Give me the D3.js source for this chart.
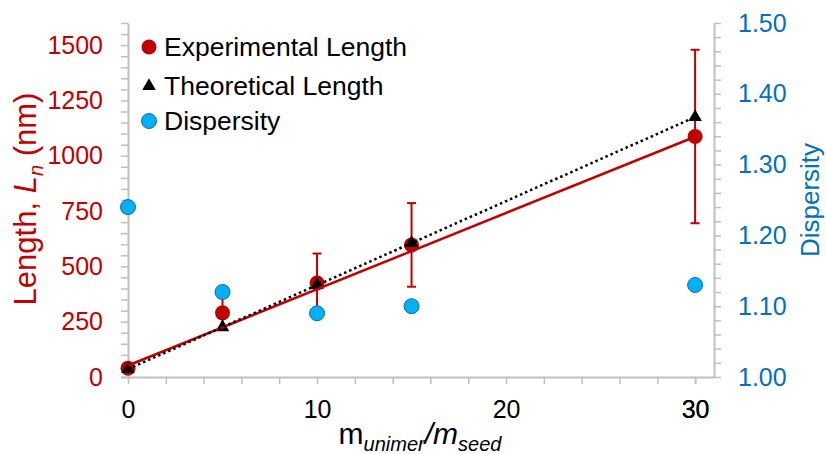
<!DOCTYPE html>
<html>
<head>
<meta charset="utf-8">
<script src="https://cdn.jsdelivr.net/npm/d3@7"></script>
<style>
  html, body { margin: 0; padding: 0; background: #fff; }
  svg { display: block; font-family: "Liberation Sans", Arial, sans-serif; }
</style>
</head>
<body>
<svg id="chart" width="826" height="454"></svg>
<script>
// Mass ratio of unimer to seed
const ratios = [0, 5, 10, 15, 30];
// Measured number-average length (nm) and its standard deviation
const expLength = [40, 290, 425, 597, 1087];
const expError = [8, 70, 133, 189, 392];
// Predicted length (nm)
const theoLength = [36, 225, 415, 605, 1175];
// Length dispersity
const dispersity = [1.24, 1.12, 1.09, 1.10, 1.13];
// Trend line for the measured length, given at its two ends (x = 0 and x = 30)
const trendX = [0, 30];
const expTrend = [52, 1086];

// Axis ticks
const xMajorTicks = [0, 10, 20, 30];
const yLeftMajorTicks = [0, 250, 500, 750, 1000, 1250, 1500];
const yRightMajorTicks = [1.0, 1.1, 1.2, 1.3, 1.4, 1.5];

const legendItems = ["Experimental Length", "Theoretical Length", "Dispersity"];

const RED = "#c00000", BLUE = "#0070c0", LIGHTBLUE = "#00b0f0", GREY = "#bfbfbf";

const svg = d3.select("#chart");
const plot = { left: 128, right: 714, top: 23, bottom: 377 };

const x = d3.scaleLinear().domain([0, 31]).range([plot.left, plot.right]);
const yL = d3.scaleLinear().domain([0, 1600]).range([plot.bottom, plot.top]);
const yR = d3.scaleLinear().domain([1.0, 1.5]).range([plot.bottom, plot.top]);

function styleAxis(g, color) {
  g.select(".domain").attr("stroke", GREY).attr("stroke-width", 2);
  g.selectAll(".tick line").attr("stroke", GREY).attr("stroke-width", 1.5);
  g.selectAll(".tick text").attr("fill", color).style("font-size", "25px")
    .style("font-family", '"Liberation Sans", Arial, sans-serif');
}

// Bottom axis: minor ticks every 2, labels every 10
const gx = svg.append("g").attr("transform", `translate(0,${plot.bottom})`)
  .call(d3.axisBottom(x).tickValues(d3.range(0, 31, 2).concat([30]))
    .tickSizeInner(7).tickSizeOuter(0).tickPadding(16)
    .tickFormat(d => xMajorTicks.includes(d) ? d : ""));
styleAxis(gx, "#000");
gx.select(".domain").attr("d", `M${plot.left - 7},0.5H${plot.right}`);

// Left axis: minor ticks every 50, labels every 250
const gyl = svg.append("g").attr("transform", `translate(${plot.left},0)`)
  .call(d3.axisLeft(yL).tickValues(d3.range(0, 1601, 50))
    .tickSizeInner(7).tickSizeOuter(0).tickPadding(18)
    .tickFormat(d => yLeftMajorTicks.includes(d) ? d : ""));
styleAxis(gyl, RED);

// Right axis: minor ticks every 0.02, labels every 0.10
const rightTicks = d3.range(0, 26).map(i => +(1 + i * 0.02).toFixed(2));
const gyr = svg.append("g").attr("transform", `translate(${plot.right},0)`)
  .call(d3.axisRight(yR).tickValues(rightTicks)
    .tickSizeInner(7).tickSizeOuter(0).tickPadding(17)
    .tickFormat(d => yRightMajorTicks.some(t => Math.abs(t - d) < 1e-9) ? d3.format(".2f")(d) : ""));
styleAxis(gyr, BLUE);

// Least-squares trend line for the predicted series
function linearFit(xs, ys) {
  const mx = d3.mean(xs), my = d3.mean(ys);
  const sxy = d3.sum(xs, (v, i) => (v - mx) * (ys[i] - my));
  const sxx = d3.sum(xs, v => (v - mx) ** 2);
  const slope = sxy / sxx;
  return { slope, intercept: my - slope * mx };
}
const fitTheo = linearFit(ratios, theoLength);

const line = d3.line().x(d => x(d[0])).y(d => yL(d[1]));

// Error bars on measured length
const eb = svg.append("g").attr("stroke", RED).attr("stroke-width", 2);
ratios.forEach((r, i) => {
  const cx = x(r), lo = yL(expLength[i] - expError[i]), hi = yL(expLength[i] + expError[i]);
  eb.append("line").attr("x1", cx).attr("x2", cx).attr("y1", lo).attr("y2", hi);
  eb.append("line").attr("x1", cx - 4.5).attr("x2", cx + 4.5).attr("y1", lo).attr("y2", lo);
  eb.append("line").attr("x1", cx - 4.5).attr("x2", cx + 4.5).attr("y1", hi).attr("y2", hi);
});

// Measured length markers
svg.append("g").selectAll("circle").data(ratios).join("circle")
  .attr("cx", d => x(d)).attr("cy", (d, i) => yL(expLength[i]))
  .attr("r", 7.5).attr("fill", RED);

// Predicted length markers
const tri = d3.symbol().type(d3.symbolTriangle).size(80);
svg.append("g").selectAll("path").data(ratios).join("path")
  .attr("transform", (d, i) => `translate(${x(d)},${yL(theoLength[i])})`)
  .attr("d", tri).attr("fill", "#000");

// Trend lines
svg.append("path")
  .attr("d", line(trendX.map((v, i) => [v, expTrend[i]])))
  .attr("fill", "none").attr("stroke", RED).attr("stroke-width", 2.5);
svg.append("path")
  .attr("d", line(trendX.map(v => [v, fitTheo.intercept + fitTheo.slope * v])))
  .attr("fill", "none").attr("stroke", "#000").attr("stroke-width", 2.5)
  .attr("stroke-dasharray", "2.5,3");

// Dispersity markers (right axis)
svg.append("g").selectAll("circle").data(ratios).join("circle")
  .attr("cx", d => x(d)).attr("cy", (d, i) => yR(dispersity[i]))
  .attr("r", 7.5).attr("fill", LIGHTBLUE).attr("stroke", BLUE).attr("stroke-width", 1);

// Legend
const legend = svg.append("g");
const legendRows = [47, 86, 121];
legendItems.forEach((name, i) => {
  const cy = legendRows[i];
  if (i === 0) legend.append("circle").attr("cx", 149).attr("cy", cy).attr("r", 7.5).attr("fill", RED);
  if (i === 1) legend.append("path").attr("transform", `translate(149,${cy})`).attr("d", tri).attr("fill", "#000");
  if (i === 2) legend.append("circle").attr("cx", 149).attr("cy", cy).attr("r", 7.5)
    .attr("fill", LIGHTBLUE).attr("stroke", BLUE).attr("stroke-width", 1);
  legend.append("text").attr("x", 164).attr("y", cy + 9).style("font-size", "26.5px")
    .attr("fill", "#000").text(name);
});

// Axis titles
const yTitle = svg.append("text").attr("transform", "translate(36,199) rotate(-90)")
  .attr("text-anchor", "middle").attr("fill", RED).style("font-size", "31px");
yTitle.append("tspan").text("Length, ");
yTitle.append("tspan").attr("font-style", "italic").text("L");
yTitle.append("tspan").attr("font-style", "italic").attr("dy", 7)
  .style("font-size", "20px").text("n");
yTitle.append("tspan").attr("dy", -7).text(" (nm)");

svg.append("text").attr("transform", "translate(819,200) rotate(-90)")
  .attr("text-anchor", "middle").attr("fill", BLUE).style("font-size", "26px").text("Dispersity");

const xTitle = svg.append("text").attr("x", 420).attr("y", 444)
  .attr("text-anchor", "middle").attr("fill", "#000").style("font-size", "30px");
xTitle.append("tspan").text("m");
xTitle.append("tspan").attr("font-style", "italic").attr("dy", 7)
  .style("font-size", "20px").text("unimer");
xTitle.append("tspan").attr("font-style", "italic").attr("dy", -7).text("/m");
xTitle.append("tspan").attr("font-style", "italic").attr("dy", 7)
  .style("font-size", "20px").text("seed");
</script>
</body>
</html>
